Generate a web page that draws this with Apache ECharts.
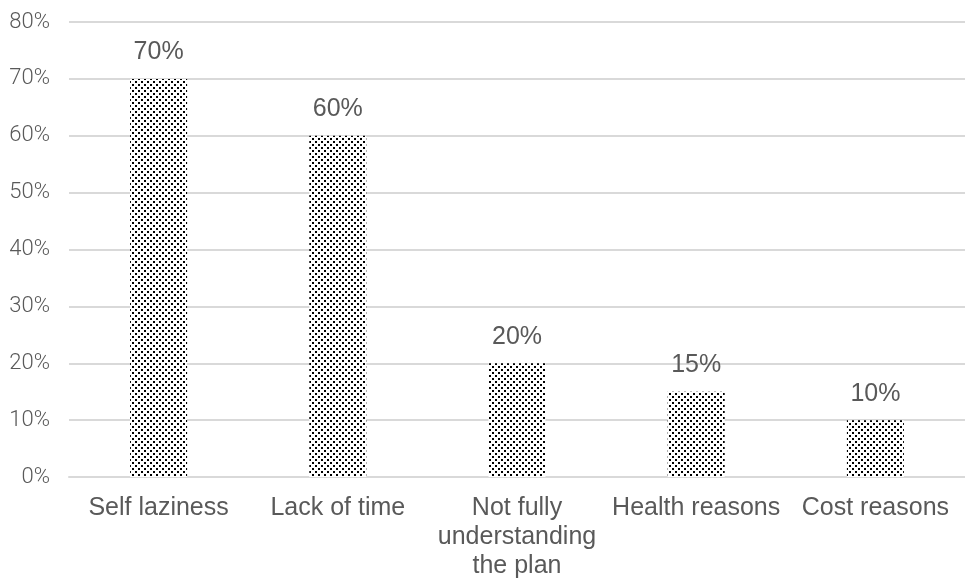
<!DOCTYPE html>
<html>
<head>
<meta charset="utf-8">
<script src="https://cdn.jsdelivr.net/npm/echarts@6/dist/echarts.min.js"></script>
<style>
  html, body { margin: 0; padding: 0; background: #fff; overflow: hidden; }
  #chart { width: 965px; height: 581px; }
</style>
</head>
<body>
<div id="chart"></div>
<script>
// Reasons given for not following the plan (share of respondents)
const categories = ['Self laziness', 'Lack of time', 'Not fully\nunderstanding\nthe plan', 'Health reasons', 'Cost reasons'];
const shares = [70, 60, 20, 15, 10];
const yTicks = { min: 0, max: 80, interval: 10 };

// Small dotted tile used as the bar fill
function dotPattern() {
  const c = document.createElement('canvas');
  c.width = 6; c.height = 6;
  const g = c.getContext('2d');
  g.fillStyle = '#ffffff';
  g.fillRect(0, 0, 6, 6);
  g.fillStyle = '#000000';
  g.fillRect(0, 0, 2, 2);
  g.fillRect(3, 3, 2, 2);
  return c;
}

const chart = echarts.init(document.getElementById('chart'), null, { renderer: 'canvas' });
const textColor = '#595959';

chart.setOption({
  animation: false,
  backgroundColor: '#ffffff',
  grid: { left: 69, top: 22, width: 900, height: 456, containLabel: false },
  xAxis: {
    type: 'category',
    data: categories,
    axisLine: { show: true, lineStyle: { color: '#d9d9d9', width: 2 } },
    axisTick: { show: false },
    axisLabel: {
      color: textColor,
      fontFamily: 'Liberation Sans, Arial, sans-serif',
      fontSize: 25,
      lineHeight: 29,
      margin: 17,
      interval: 0
    }
  },
  yAxis: {
    type: 'value',
    min: yTicks.min,
    max: yTicks.max,
    interval: yTicks.interval,
    axisLine: { show: false },
    axisTick: { show: false },
    splitLine: { lineStyle: { color: '#d9d9d9', width: 2 } },
    axisLabel: {
      color: textColor,
      fontFamily: 'Roboto, sans-serif',
      fontWeight: 300,
      fontSize: 22,
      margin: 19,
      formatter: v => v + '%'
    }
  },
  series: [{
    type: 'bar',
    data: shares,
    barWidth: 57,
    itemStyle: { color: { image: dotPattern(), repeat: 'repeat' } },
    label: {
      show: true,
      position: 'top',
      distance: 14,
      color: textColor,
      fontFamily: 'Liberation Sans, Arial, sans-serif',
      fontSize: 25,
      formatter: p => p.value + '%'
    }
  }]
});
</script>
</body>
</html>
